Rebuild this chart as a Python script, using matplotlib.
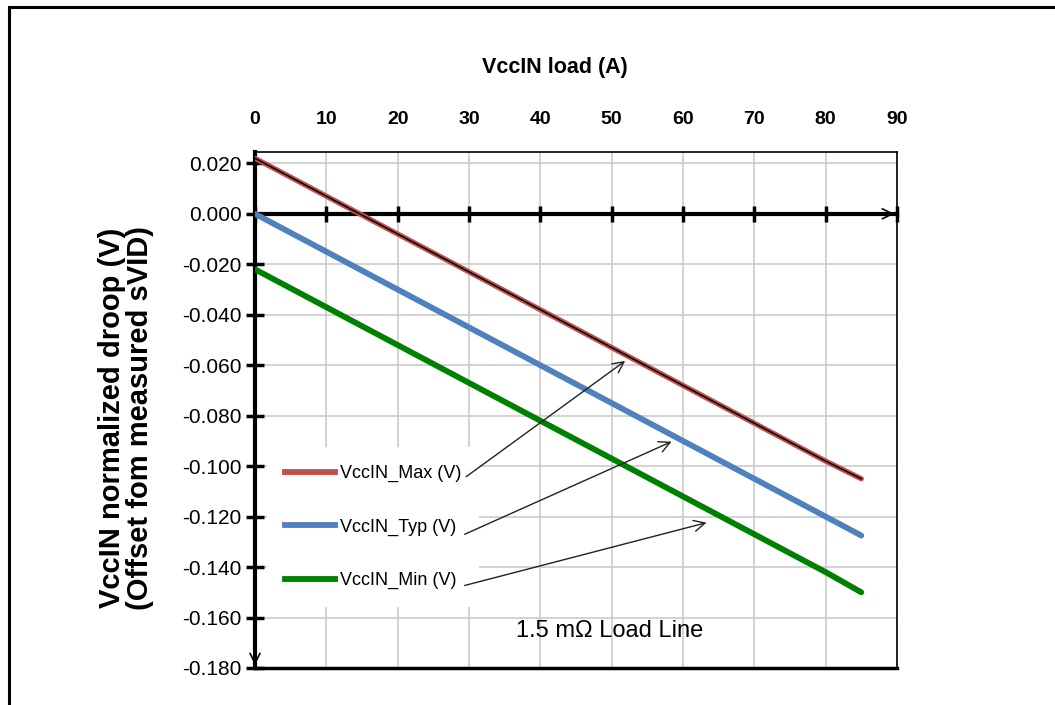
import matplotlib
matplotlib.use("Agg")
import matplotlib.pyplot as plt
from matplotlib.lines import Line2D
from matplotlib.patches import Rectangle

FONT = ["Liberation Sans", "DejaVu Sans"]

# ── Data ───────────────────────────────────────────────────────────────────────
load_a = [0, 10, 20, 30, 40, 50, 60, 70, 80, 85]
vcc_max = [0.022, 0.007, -0.008, -0.023, -0.038, -0.053, -0.068, -0.083, -0.098, -0.105]
vcc_typ = [0.000, -0.015, -0.030, -0.045, -0.060, -0.075, -0.090, -0.105, -0.120, -0.1275]
vcc_min = [-0.022, -0.037, -0.052, -0.067, -0.082, -0.097, -0.112, -0.127, -0.142, -0.150]

series_names = ["VccIN_Max (V)", "VccIN_Typ (V)", "VccIN_Min (V)"]
series_colors = ["#c0504d", "#4f81bd", "#008000"]

x_ticks = [0, 10, 20, 30, 40, 50, 60, 70, 80, 90]
y_ticks = [0.02, 0.0, -0.02, -0.04, -0.06, -0.08, -0.10, -0.12, -0.14, -0.16, -0.18]

# label end (x, y) -> arrow tip (x, y), data coords
arrow_tails = [(29.6, -0.1042), (29.4, -0.1270), (29.4, -0.1473)]
arrow_tips = [(51.9, -0.0583), (58.4, -0.0903), (63.3, -0.1224)]

# ── Figure ─────────────────────────────────────────────────────────────────────
fig = plt.figure(figsize=(10.55, 7.05), dpi=100)
ax = fig.add_axes([0.2417, 0.0525, 0.6085, 0.7319])

# outer frame (only left / top edges visible)
fig.patches.append(Rectangle((9 / 1055, -0.1), 1.2, 1 - 7 / 705 + 0.1,
                             transform=fig.transFigure, fill=False,
                             edgecolor="black", linewidth=2.2))

ax.set_xlim(0, 90)
ax.set_ylim(-0.18, 0.0245)

ax.grid(True, color="#c8c8c8", linewidth=1.1, zorder=0)
ax.set_axisbelow(True)

# data lines
ax.plot(load_a, vcc_max, color=series_colors[0], lw=3.8, zorder=3,
        solid_capstyle="round")
ax.plot(load_a, vcc_max, color="black", lw=1.1, zorder=4)
ax.plot(load_a, vcc_typ, color=series_colors[1], lw=4.2, zorder=3,
        solid_capstyle="round")
ax.plot(load_a, vcc_min, color=series_colors[2], lw=4.2, zorder=3,
        solid_capstyle="round")

# spines: x axis through zero, thin frame around plot area
ax.spines["bottom"].set_position(("data", 0))
ax.spines["bottom"].set_linewidth(3)
ax.spines["left"].set_linewidth(3)
ax.spines["top"].set_linewidth(1.2)
ax.spines["right"].set_linewidth(1.2)
ax.axhline(-0.18, color="black", lw=2.5, zorder=5, clip_on=False)

ax.set_xticks(x_ticks)
ax.set_yticks(y_ticks)
ax.set_yticklabels([f"{v:.3f}" for v in y_ticks])
ax.tick_params(axis="x", direction="inout", length=12, width=2.5,
               bottom=True, top=False, labelbottom=False, labeltop=True,
               pad=11)
ax.tick_params(axis="y", direction="inout", length=13, width=2.5, pad=3)
for lbl in ax.get_xticklabels():
    lbl.set_fontfamily(FONT)
    lbl.set_fontsize(14)
    lbl.set_fontweight("bold")
for lbl in ax.get_yticklabels():
    lbl.set_fontfamily(FONT)
    lbl.set_fontsize(15)

# axis arrows
ax.annotate("", xy=(90, 0), xytext=(86, 0),
            arrowprops=dict(arrowstyle="->", color="black", lw=1.2,
                            mutation_scale=18), annotation_clip=False)
ax.annotate("", xy=(0, -0.18), xytext=(0, -0.172),
            arrowprops=dict(arrowstyle="->", color="black", lw=1.2,
                            mutation_scale=18), annotation_clip=False)

# legend
handles = [Line2D([0], [0], color=c, lw=4.2) for c in series_colors]
leg = ax.legend(handles, series_names, loc="center",
                bbox_to_anchor=(0.184, 0.273), frameon=True, fancybox=False,
                edgecolor="none", facecolor="white", framealpha=1,
                handlelength=2.75, handletextpad=0.25, labelspacing=2.0,
                borderpad=1.0, borderaxespad=0,
                prop=dict(family=FONT, size=13))
leg.set_zorder(6)

# pointer arrows from legend labels to lines
for (tx, ty), (hx, hy) in zip(arrow_tails, arrow_tips):
    ax.annotate("", xy=(hx, hy), xytext=(tx, ty),
                arrowprops=dict(arrowstyle="->", color="#222222", lw=1.0,
                                mutation_scale=20, shrinkA=0, shrinkB=0),
                zorder=7)

ax.text(49.7, -0.1655, "1.5 m\u03a9 Load Line", ha="center", va="center",
        fontsize=17, family=FONT, color="black", zorder=7)

# titles
fig.text(555 / 1055, 1 - 68 / 705, "VccIN load (A)", ha="center", va="center",
         fontsize=15.5, fontweight="bold", family=FONT)
fig.text(126 / 1055, 1 - 418 / 705,
         "VccIN normalized droop (V)\n(Offset fom measured sVID)",
         ha="center", va="center", rotation=90, fontsize=21,
         fontweight="bold", family=FONT, linespacing=0.96)

fig.savefig("out.png", dpi=100)
